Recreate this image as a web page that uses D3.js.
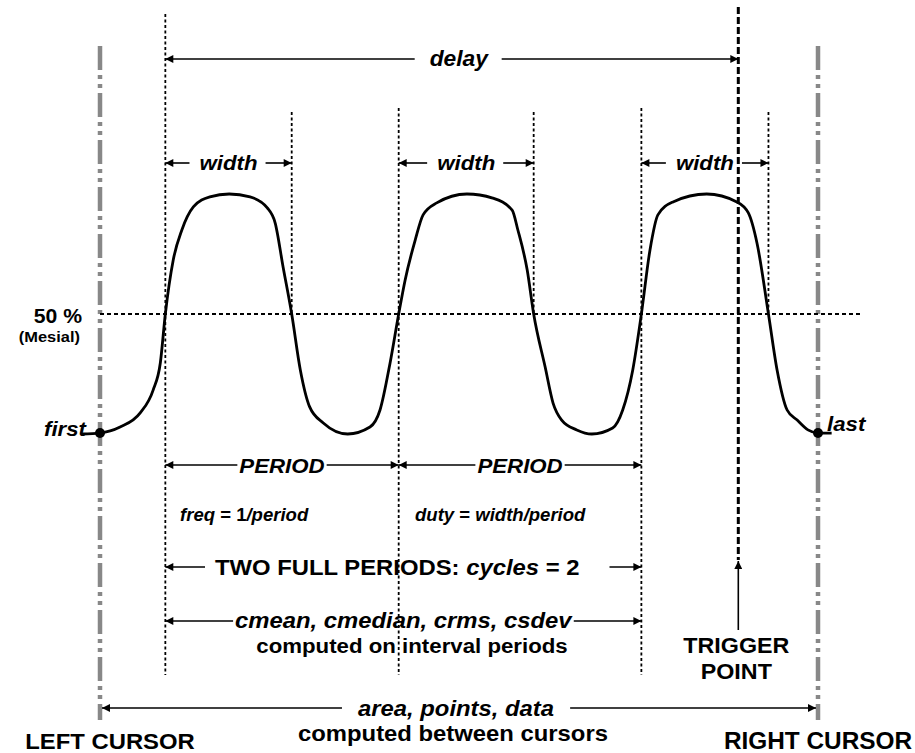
<!DOCTYPE html>
<html>
<head>
<meta charset="utf-8">
<script src="https://cdn.jsdelivr.net/npm/d3@7"></script>
<style>
  body{margin:0;background:#fff;}
  text{font-family:"Liberation Sans",Arial,Helvetica,sans-serif;font-weight:bold;fill:#000;white-space:pre;}
</style>
</head>
<body>
<div id="chart"></div>
<script>
// waveform: time (cursor to cursor = 0..100) and level (low 0, high 1)
const waveT = [-2.5, 0, 2.8, 5.6, 7.4, 8.4, 9.1, 10.2, 11.4, 13.0, 15.3, 18.0, 20.9, 23.3, 24.4, 25.5, 26.7,
  27.9, 29.2, 31.1, 34.5, 37.6, 39.0, 40.4, 41.6, 42.5, 43.9, 45.0, 46.9, 51.1, 54.7, 57.4, 58.2, 59.5, 60.4,
  62.0, 63.1, 64.3, 66.4, 68.5, 71.4, 72.8, 74.2, 75.4, 76.6, 77.7, 79.8, 84.5, 88.7, 90.3, 91.5, 93.1,
  94.3, 95.7, 97.1, 98.6, 100, 101.9];
const waveV = [0, 0.004, 0.029, 0.088, 0.183, 0.296, 0.5, 0.725, 0.85, 0.946, 0.988, 1.0, 0.988, 0.942, 0.879, 0.696, 0.5,
  0.267, 0.113, 0.046, 0, 0.029, 0.1, 0.296, 0.5, 0.642, 0.808, 0.913, 0.963, 1.0, 0.983, 0.933, 0.85, 0.683, 0.5,
  0.279, 0.129, 0.058, 0.017, 0, 0.025, 0.1, 0.267, 0.5, 0.767, 0.913, 0.967, 1.0, 0.967, 0.921, 0.796, 0.5,
  0.267, 0.1, 0.058, 0.017, 0.004, 0.004];

const cursors = [0, 100];
const risingEdges = [9.1, 41.6, 75.4];
const fallingEdges = [26.7, 60.4, 93.1];
const triggerT = 88.9;
const mesialLevel = 0.5;
const mesialEnd = 106;

const width = 915, height = 753;
const sx = 1.06; // text in the picture is a little wide

const svg = d3.select('#chart').append('svg')
  .attr('width', width)
  .attr('height', height);

const xScale = d3.scaleLinear().domain([0, 100]).range([100, 818]);
const yScale = d3.scaleLinear().domain([0, 1]).range([434, 194]);

// arrow head
svg.append('defs').append('marker')
  .attr('id', 'head')
  .attr('viewBox', '0 0 10 10')
  .attr('refX', 10).attr('refY', 5)
  .attr('markerUnits', 'userSpaceOnUse')
  .attr('markerWidth', 9).attr('markerHeight', 8)
  .attr('orient', 'auto-start-reverse')
  .append('path').attr('d', 'M0,0L10,5L0,10Z').attr('fill', '#000');

// cursors
svg.append('g').selectAll('line').data(cursors).enter()
  .append('line')
  .attr('x1', d => xScale(d)).attr('x2', d => xScale(d))
  .attr('y1', 46).attr('y2', 720)
  .attr('stroke', '#888').attr('stroke-width', 4.5)
  .attr('stroke-dasharray', '24,5,4,5,4,5');

// edge markers
const dotted = svg.append('g').attr('stroke', '#000').attr('stroke-width', 1.8).attr('stroke-dasharray', '3,2.5');
dotted.selectAll('.rise').data(risingEdges).enter()
  .append('line').attr('class', 'rise')
  .attr('x1', d => xScale(d)).attr('x2', d => xScale(d))
  .attr('y1', (d, i) => i === 0 ? 14 : 108).attr('y2', 675);
dotted.selectAll('.fall').data(fallingEdges).enter()
  .append('line').attr('class', 'fall')
  .attr('x1', d => xScale(d)).attr('x2', d => xScale(d))
  .attr('y1', 112).attr('y2', yScale(mesialLevel));

// mesial level
svg.append('line')
  .attr('x1', xScale(0)).attr('x2', xScale(mesialEnd))
  .attr('y1', yScale(mesialLevel)).attr('y2', yScale(mesialLevel))
  .attr('stroke', '#000').attr('stroke-width', 1.8).attr('stroke-dasharray', '4,3');

// trigger
svg.append('line')
  .attr('x1', xScale(triggerT)).attr('x2', xScale(triggerT))
  .attr('y1', 7).attr('y2', 560)
  .attr('stroke', '#000').attr('stroke-width', 3).attr('stroke-dasharray', '7,3');

// waveform
const line = d3.line()
  .x(i => xScale(waveT[i]))
  .y(i => yScale(waveV[i]))
  .curve(d3.curveMonotoneX);

svg.append('path')
  .attr('d', line(d3.range(waveT.length)))
  .attr('fill', 'none').attr('stroke', '#000').attr('stroke-width', 2.8);

const endIdx = [1, waveT.length - 2];
svg.append('g').selectAll('circle').data(endIdx).enter()
  .append('circle')
  .attr('cx', i => xScale(waveT[i]))
  .attr('cy', i => yScale(waveV[i]))
  .attr('r', 5).attr('fill', '#000');

// text helper: parts = [[string, italic], ...]
function label(x, y, parts, size, anchor){
  const t = svg.append('text')
    .attr('transform', 'translate(' + x + ',' + y + ') scale(' + sx + ',1)')
    .attr('text-anchor', anchor || 'middle')
    .style('font-size', size + 'px');
  parts.forEach(p => t.append('tspan').text(p[0]).style('font-style', p[1] ? 'italic' : 'normal'));
  const bb = t.node().getBBox();
  return {left: x + bb.x * sx, right: x + (bb.x + bb.width) * sx};
}

// two headed arrow broken by its label
function arrow(x1, x2, y, box, padL, padR){
  const g = svg.append('g').attr('stroke', '#000').attr('stroke-width', 1.6);
  g.append('line').attr('x1', box.left - padL).attr('x2', x1).attr('y1', y).attr('y2', y)
    .attr('marker-end', 'url(#head)');
  g.append('line').attr('x1', box.right + padR).attr('x2', x2).attr('y1', y).attr('y2', y)
    .attr('marker-end', 'url(#head)');
}

// delay
let b = label((xScale(risingEdges[0]) + xScale(triggerT)) / 2 + 7, 66, [['delay', true]], 21.5);
arrow(xScale(risingEdges[0]), xScale(triggerT), 59, b, 15, 12);

// widths
risingEdges.forEach((r, i) => {
  const a = xScale(r), c = xScale(fallingEdges[i]);
  const bw = label((a + c) / 2, 170, [['width', true]], 21);
  arrow(a, c, 163, bw, 10, 8);
});

// periods
[0, 1].forEach(i => {
  const a = xScale(risingEdges[i]), c = xScale(risingEdges[i + 1]);
  const bp = label((a + c) / 2, 473, [['PERIOD', true]], 21);
  arrow(a, c, 465, bp, 2, 2);
});

label(180, 521, [['freq', true], [' = 1', false], ['/period', true]], 17.5, 'start');
label(415, 521, [['duty', true], [' = ', false], ['width/period', true]], 17.5, 'start');

// cycles
b = label(215, 575, [['TWO FULL PERIODS: ', false], ['cycles', true], [' = 2', false]], 22.5, 'start');
arrow(xScale(risingEdges[0]), xScale(risingEdges[2]), 567, b, 10, 30);

// cmean row
b = label((xScale(risingEdges[0]) + xScale(risingEdges[2])) / 2, 628, [['cmean, cmedian, crms, csdev', true]], 22.5);
arrow(xScale(risingEdges[0]), xScale(risingEdges[2]), 621, b, 2, 1);
label(412, 653, [['computed on interval periods', false]], 21);

// trigger label
svg.append('line')
  .attr('x1', xScale(triggerT)).attr('x2', xScale(triggerT))
  .attr('y1', 630).attr('y2', 561)
  .attr('stroke', '#000').attr('stroke-width', 1.6)
  .attr('marker-end', 'url(#head)');
label(xScale(triggerT) - 2, 653, [['TRIGGER', false]], 22);
label(xScale(triggerT) - 2, 679, [['POINT', false]], 22);

// cursor row
b = label(456, 716, [['area, points, data', true]], 22.5);
arrow(xScale(cursors[0]) + 2, xScale(cursors[1]) - 2, 708, b, 16, 16);
label(453, 741, [['computed between cursors', false]], 22.5);
label(110, 749, [['LEFT CURSOR', false]], 22.5);
label(xScale(cursors[1]), 749, [['RIGHT CURSOR', false]], 23);

// level and end labels
label(82, 323, [['50 %', false]], 20, 'end');
label(80, 342, [['(Mesial)', false]], 15.5, 'end');
label(86, 436, [['first', true]], 21, 'end');
label(827, 431, [['last', true]], 21, 'start');
</script>
</body>
</html>
